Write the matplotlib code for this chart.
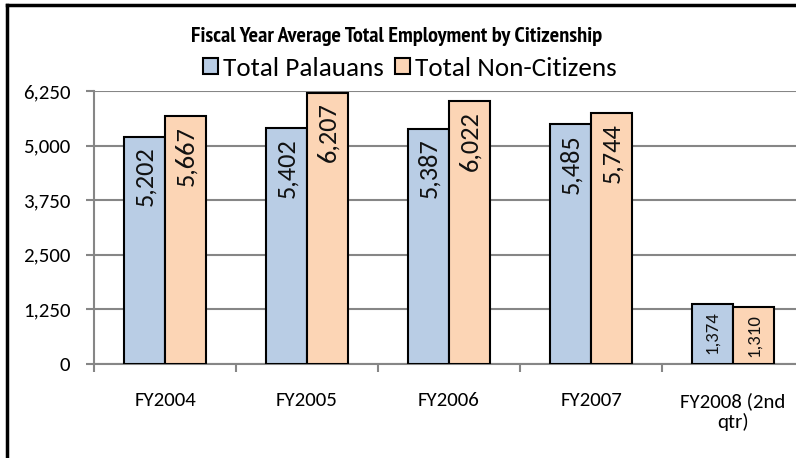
import numpy as np
import matplotlib
matplotlib.use("Agg")
import matplotlib.pyplot as plt
from matplotlib.patches import Patch
from matplotlib.ticker import FuncFormatter

# --- data ---
categories = ["FY2004", "FY2005", "FY2006", "FY2007", "FY2008 (2nd\nqtr)"]
palauans = [5202, 5402, 5387, 5485, 1374]
non_citizens = [5667, 6207, 6022, 5744, 1310]
series_names = ["Total Palauans", "Total Non-Citizens"]
title = "Fiscal Year Average Total Employment by Citizenship"

blue = "#B9CDE5"
orange = "#FCD5B5"
grid_col = "#868686"

plt.rcParams["font.family"] = ["Carlito", "DejaVu Sans"]

fig = plt.figure(figsize=(7.96, 4.58), dpi=100)
# plot area runs off the right edge like the cropped original
ax = fig.add_axes([94 / 796, 1 - 364 / 458, 710 / 796, 273 / 458])

x = np.arange(len(categories))
w = 0.29
b1 = ax.bar(x - w / 2, palauans, w, color=blue, edgecolor="black", linewidth=1.5, zorder=3)
b2 = ax.bar(x + w / 2, non_citizens, w, color=orange, edgecolor="black", linewidth=1.5, zorder=3)

# value labels, rotated, inside top of bars
for bars, vals in ((b1, palauans), (b2, non_citizens)):
    for rect, v in zip(bars, vals):
        big = v > 2000
        ax.annotate(f"{v:,}", (rect.get_x() + rect.get_width() / 2, v),
                    xytext=(0, -7 if big else -5), textcoords="offset points",
                    rotation=90, ha="center", va="top",
                    fontsize=19 if big else 13.5, color="#111111", zorder=4)

ax.set_xlim(-0.5, len(categories) - 0.5)
ax.set_ylim(0, 6250)
ax.set_yticks(np.arange(0, 6251, 1250))
ax.yaxis.set_major_formatter(FuncFormatter(lambda v, p: f"{int(v):,}"))
ax.yaxis.grid(True, color=grid_col, linewidth=1.5, zorder=0)

ax.set_xticks(x)
ax.set_xticklabels(categories, fontsize=15, linespacing=1.2)
ax.set_xticks(np.arange(-0.5, len(categories)), minor=True)
ax.tick_params(axis="x", which="major", length=0, pad=20)
ax.tick_params(axis="x", which="minor", length=6, width=1.5, color=grid_col)
ax.tick_params(axis="y", length=6, width=1.5, color=grid_col, labelsize=15, pad=11)

for s in ("top", "right"):
    ax.spines[s].set_visible(False)
for s in ("left", "bottom"):
    ax.spines[s].set_color(grid_col)
    ax.spines[s].set_linewidth(1.5)

fig.text(397 / 796, 1 - 42 / 458, title, ha="center", va="baseline",
         fontsize=16, fontweight="bold",
         family=["PT Sans Narrow", "Roboto Condensed", "DejaVu Sans"])

handles = [Patch(facecolor=blue, edgecolor="black", linewidth=1.5),
           Patch(facecolor=orange, edgecolor="black", linewidth=1.5)]
fig.legend(handles, series_names, loc="center", bbox_to_anchor=(410 / 796, 1 - 68 / 458),
           ncol=2, frameon=False, fontsize=19.5, handlelength=0.55, handleheight=0.55,
           handletextpad=0.2, columnspacing=0.4, borderpad=0)

# outer chart border (cropped at right and bottom)
fig.add_artist(plt.Line2D([7 / 796, 7 / 796], [0, 1 - 5 / 458], color="black", linewidth=2.5,
                          transform=fig.transFigure))
fig.add_artist(plt.Line2D([7 / 796, 1], [1 - 5 / 458, 1 - 5 / 458], color="black", linewidth=2.5,
                          transform=fig.transFigure))

fig.savefig("out.png", dpi=100)
